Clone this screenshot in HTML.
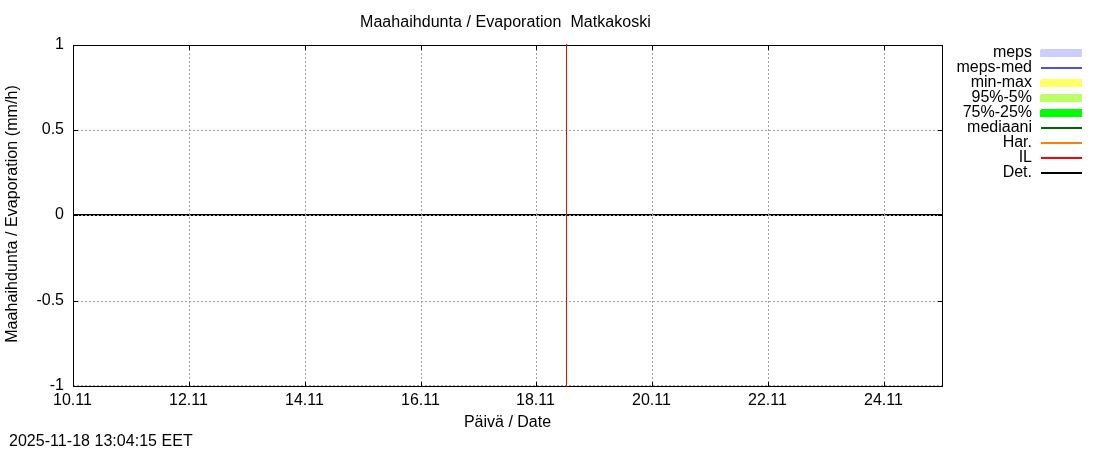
<!DOCTYPE html>
<html><head><meta charset="utf-8"><style>
html,body{margin:0;padding:0;background:#fff;width:1100px;height:450px;overflow:hidden}
svg{display:block}
svg{will-change:transform}
text{font-family:"Liberation Sans",sans-serif;font-size:16px;fill:#000}
</style></head><body>
<svg width="1100" height="450" viewBox="0 0 1100 450">
<rect x="0" y="0" width="1100" height="450" fill="#fff"/>
<g shape-rendering="crispEdges">
<line x1="73" y1="130.5" x2="943" y2="130.5" stroke="#a0a0a0" stroke-width="1" stroke-dasharray="2 2"/>
<line x1="73" y1="215.5" x2="943" y2="215.5" stroke="#a0a0a0" stroke-width="1" stroke-dasharray="2 2"/>
<line x1="73" y1="301.5" x2="943" y2="301.5" stroke="#a0a0a0" stroke-width="1" stroke-dasharray="2 2"/>
<line x1="73" y1="385.5" x2="943" y2="385.5" stroke="#a0a0a0" stroke-width="1" stroke-dasharray="2 2"/>
<line x1="189.5" y1="45" x2="189.5" y2="387" stroke="#a0a0a0" stroke-width="1" stroke-dasharray="2 2"/>
<line x1="305.5" y1="45" x2="305.5" y2="387" stroke="#a0a0a0" stroke-width="1" stroke-dasharray="2 2"/>
<line x1="421.5" y1="45" x2="421.5" y2="387" stroke="#a0a0a0" stroke-width="1" stroke-dasharray="2 2"/>
<line x1="536.5" y1="45" x2="536.5" y2="387" stroke="#a0a0a0" stroke-width="1" stroke-dasharray="2 2"/>
<line x1="652.5" y1="45" x2="652.5" y2="387" stroke="#a0a0a0" stroke-width="1" stroke-dasharray="2 2"/>
<line x1="768.5" y1="45" x2="768.5" y2="387" stroke="#a0a0a0" stroke-width="1" stroke-dasharray="2 2"/>
<line x1="884.5" y1="45" x2="884.5" y2="387" stroke="#a0a0a0" stroke-width="1" stroke-dasharray="2 2"/>
<rect x="73" y="214" width="869" height="1" fill="#000"/>
<line x1="75" y1="215.5" x2="942" y2="215.5" stroke="#000" stroke-width="1" stroke-dasharray="2 2"/>
<rect x="73" y="45" width="870" height="1" fill="#000"/>
<rect x="73" y="386" width="870" height="1" fill="#000"/>
<rect x="73" y="45" width="1" height="342" fill="#000"/>
<rect x="942" y="45" width="1" height="342" fill="#000"/>
<rect x="73" y="45" width="5" height="1" fill="#000"/>
<rect x="938" y="45" width="5" height="1" fill="#000"/>
<rect x="73" y="130" width="5" height="1" fill="#000"/>
<rect x="938" y="130" width="5" height="1" fill="#000"/>
<rect x="73" y="215" width="5" height="1" fill="#000"/>
<rect x="938" y="215" width="5" height="1" fill="#000"/>
<rect x="73" y="301" width="5" height="1" fill="#000"/>
<rect x="938" y="301" width="5" height="1" fill="#000"/>
<rect x="73" y="215" width="5" height="1" fill="#000"/>
<rect x="73" y="45" width="1" height="5" fill="#000"/>
<rect x="73" y="382" width="1" height="5" fill="#000"/>
<rect x="189" y="45" width="1" height="5" fill="#000"/>
<rect x="189" y="382" width="1" height="5" fill="#000"/>
<rect x="305" y="45" width="1" height="5" fill="#000"/>
<rect x="305" y="382" width="1" height="5" fill="#000"/>
<rect x="421" y="45" width="1" height="5" fill="#000"/>
<rect x="421" y="382" width="1" height="5" fill="#000"/>
<rect x="536" y="45" width="1" height="5" fill="#000"/>
<rect x="536" y="382" width="1" height="5" fill="#000"/>
<rect x="652" y="45" width="1" height="5" fill="#000"/>
<rect x="652" y="382" width="1" height="5" fill="#000"/>
<rect x="768" y="45" width="1" height="5" fill="#000"/>
<rect x="768" y="382" width="1" height="5" fill="#000"/>
<rect x="884" y="45" width="1" height="5" fill="#000"/>
<rect x="884" y="382" width="1" height="5" fill="#000"/>
<rect x="189" y="214" width="1" height="2" fill="#a0a0a0"/>
<rect x="305" y="214" width="1" height="2" fill="#a0a0a0"/>
<rect x="421" y="214" width="1" height="2" fill="#a0a0a0"/>
<rect x="536" y="214" width="1" height="2" fill="#a0a0a0"/>
<rect x="652" y="214" width="1" height="2" fill="#a0a0a0"/>
<rect x="768" y="214" width="1" height="2" fill="#a0a0a0"/>
<rect x="884" y="214" width="1" height="2" fill="#a0a0a0"/>
<rect x="566" y="44" width="1" height="343" fill="#ff0000"/>
<rect x="1041" y="49" width="41" height="1" fill="#ccccff"/>
<rect x="1040" y="50" width="42" height="7" fill="#ccccff"/>
<rect x="1041" y="67" width="41" height="2" fill="#5050e0"/>
<rect x="1041" y="79" width="41" height="1" fill="#ffff66"/>
<rect x="1040" y="80" width="42" height="7" fill="#ffff66"/>
<rect x="1041" y="94" width="41" height="1" fill="#bbff66"/>
<rect x="1040" y="95" width="42" height="7" fill="#bbff66"/>
<rect x="1041" y="109" width="41" height="1" fill="#00ff00"/>
<rect x="1040" y="110" width="42" height="7" fill="#00ff00"/>
<rect x="1041" y="127" width="41" height="2" fill="#006600"/>
<rect x="1041" y="142" width="41" height="2" fill="#ff8000"/>
<rect x="1041" y="157" width="41" height="2" fill="#ff0000"/>
<rect x="1041" y="172" width="41" height="2" fill="#000000"/>
</g>
<g>
<text x="360" y="27" text-anchor="start" letter-spacing="0.05">Maahaihdunta / Evaporation&#160; Matkakoski</text>
<text x="64" y="49" text-anchor="end" >1</text>
<text x="64" y="134" text-anchor="end" >0.5</text>
<text x="64" y="219" text-anchor="end" >0</text>
<text x="64" y="305" text-anchor="end" >-0.5</text>
<text x="64" y="390" text-anchor="end" >-1</text>
<text x="72.5" y="405" text-anchor="middle" >10.11</text>
<text x="188.5" y="405" text-anchor="middle" >12.11</text>
<text x="304.5" y="405" text-anchor="middle" >14.11</text>
<text x="420.5" y="405" text-anchor="middle" >16.11</text>
<text x="535.5" y="405" text-anchor="middle" >18.11</text>
<text x="651.5" y="405" text-anchor="middle" >20.11</text>
<text x="767.5" y="405" text-anchor="middle" >22.11</text>
<text x="883.5" y="405" text-anchor="middle" >24.11</text>
<text x="507.5" y="427" text-anchor="middle" >P&#228;iv&#228; / Date</text>
<text x="17" y="214" text-anchor="middle" letter-spacing="0.075" transform="rotate(-90 17 214)">Maahaihdunta / Evaporation (mm/h)</text>
<text x="9" y="446" text-anchor="start" letter-spacing="0.035">2025-11-18 13:04:15 EET</text>
<text x="1032" y="57" text-anchor="end" >meps</text>
<text x="1032" y="72" text-anchor="end" >meps-med</text>
<text x="1032" y="87" text-anchor="end" >min-max</text>
<text x="1032" y="102" text-anchor="end" >95%-5%</text>
<text x="1032" y="117" text-anchor="end" >75%-25%</text>
<text x="1032" y="132" text-anchor="end" >mediaani</text>
<text x="1032" y="147" text-anchor="end" >Har.</text>
<text x="1032" y="162" text-anchor="end" >IL</text>
<text x="1032" y="177" text-anchor="end" >Det.</text>
</g>
</svg>
</body></html>
